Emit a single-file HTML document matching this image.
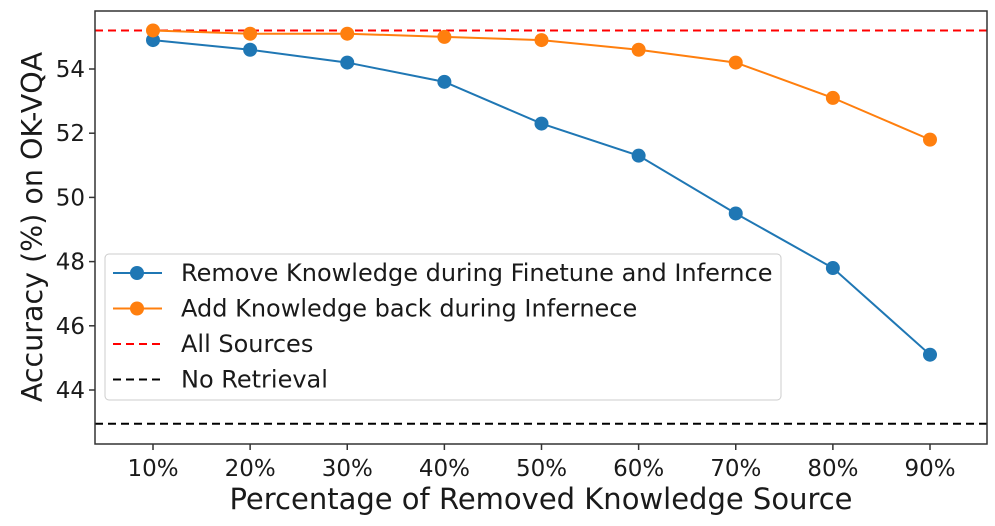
<!DOCTYPE html>
<html><head><meta charset="utf-8"><style>
body{margin:0;background:#fff;font-family:"DejaVu Sans","Liberation Sans",sans-serif}
</style></head><body>
<svg id="c" width="995" height="522" xmlns="http://www.w3.org/2000/svg" font-family="DejaVu Sans, Liberation Sans, sans-serif"></svg>
<script>
const categories=["10%","20%","30%","40%","50%","60%","70%","80%","90%"];
const removeSeries=[54.9,54.6,54.2,53.6,52.3,51.3,49.5,47.8,45.1];
const addBackSeries=[55.2,55.1,55.1,55.0,54.9,54.6,54.2,53.1,51.8];
const allSources=55.2;
const noRetrieval=42.95;
const yTicks=[44,46,48,50,52,54];
const legendLabels=["Remove Knowledge during Finetune and Infernce","Add Knowledge back during Infernece","All Sources","No Retrieval"];

const L=95,R=987,T=11,B=444;
const x=i=>153+i*(930-153)/8;
const y=v=>390-(v-44)*(390-69)/10;
const svg=document.getElementById('c');
const NS="http://www.w3.org/2000/svg";
function mk(tag,attrs,parent){const e=document.createElementNS(NS,tag);for(const k in attrs)e.setAttribute(k,attrs[k]);(parent||svg).appendChild(e);return e;}

let rl=mk('line',{x1:L,x2:R,y1:y(allSources),y2:y(allSources),stroke:'#ff0000','stroke-width':2,'stroke-dasharray':'8,5'});


let nl=mk('line',{x1:L,x2:R,y1:y(noRetrieval),y2:y(noRetrieval),stroke:'#000','stroke-width':2,'stroke-dasharray':'8,5'});



function series(vals,color,name){
  const g=mk('g',{});
  
  
  mk('polyline',{points:vals.map((v,i)=>x(i)+','+y(v)).join(' '),fill:'none',stroke:color,'stroke-width':2},g);
  vals.forEach((v,i)=>{
    const c=mk('circle',{cx:x(i),cy:y(v),r:7,fill:color},g);
    
    
  });
}
series(removeSeries,'#1f77b4','remove-knowledge-series');
series(addBackSeries,'#ff7f0e','add-knowledge-series');

let fr=mk('rect',{x:L,y:T,width:R-L,height:B-T,fill:'none',stroke:'#333','stroke-width':1.5});



yTicks.forEach(v=>{
  mk('line',{x1:L-6,x2:L,y1:y(v),y2:y(v),stroke:'#333','stroke-width':1.5});
  const t=mk('text',{x:L-10,y:y(v)+8,'text-anchor':'end','font-size':23,fill:'#1a1a1a'});
  t.textContent=v;
  
  
});
categories.forEach((c,i)=>{
  mk('line',{x1:x(i),x2:x(i),y1:B,y2:B+6,stroke:'#333','stroke-width':1.5});
  const t=mk('text',{x:x(i),y:B+32,'text-anchor':'middle','font-size':23,fill:'#1a1a1a'});
  t.textContent=c;
  
  
});
let xt=mk('text',{x:541,y:509,'text-anchor':'middle','font-size':29,fill:'#1a1a1a'});
xt.textContent='Percentage of Removed Knowledge Source';


let yt=mk('text',{x:0,y:0,'text-anchor':'middle','font-size':28.5,fill:'#1a1a1a',transform:'translate(42,227) rotate(-90)'});
yt.textContent='Accuracy (%) on OK-VQA';



const lg=mk('g',{});


mk('rect',{x:105,y:254,width:676,height:146,rx:4,fill:'#fff','fill-opacity':0.85,stroke:'#ccc','stroke-width':1},lg);
const lcol=['#1f77b4','#ff7f0e','#ff0000','#000'];
legendLabels.forEach((lab,i)=>{
  const yy=273+i*35.5;
  const e=mk('g',{},lg);
  
  
  if(i<2){
    mk('line',{x1:113,x2:162,y1:yy,y2:yy,stroke:lcol[i],'stroke-width':2},e);
    mk('circle',{cx:137,cy:yy,r:7,fill:lcol[i]},e);
  } else {
    mk('line',{x1:113,x2:162,y1:yy,y2:yy,stroke:lcol[i],'stroke-width':2,'stroke-dasharray':'8,5'},e);
  }
  const t=mk('text',{x:181,y:yy+8,'font-size':24,fill:'#1a1a1a'},e);
  t.textContent=lab;
});
</script>
</body></html>
